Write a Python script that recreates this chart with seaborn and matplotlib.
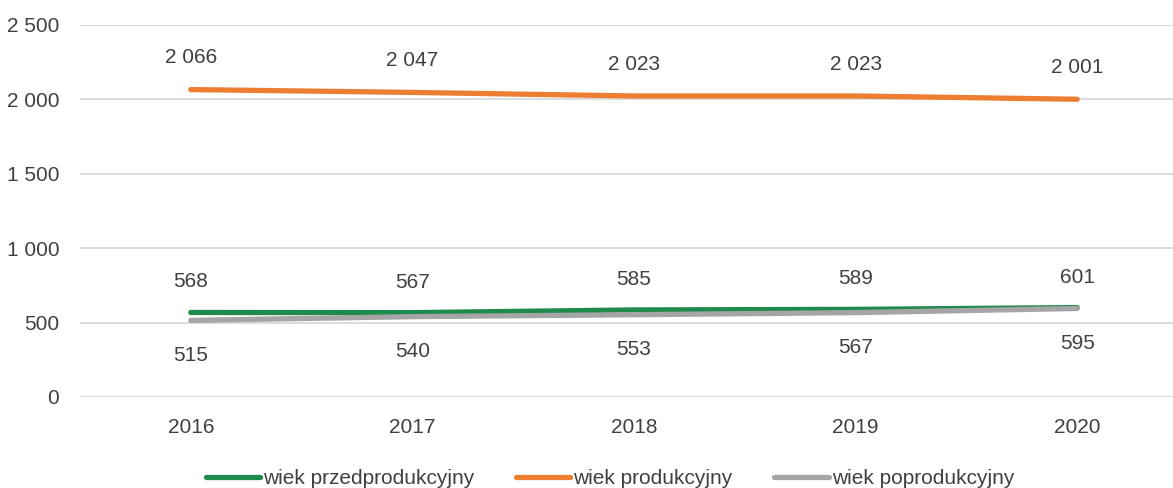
import matplotlib
matplotlib.use("Agg")
import matplotlib.pyplot as plt
import seaborn as sns
import pandas as pd
from matplotlib.lines import Line2D

years = ["2016", "2017", "2018", "2019", "2020"]
przed = [568, 567, 585, 589, 601]
prod = [2066, 2047, 2023, 2023, 2001]
poprod = [515, 540, 553, 567, 595]
series_names = ["wiek przedprodukcyjny", "wiek produkcyjny", "wiek poprodukcyjny"]
colors = ["#1E8A4C", "#ED7D31", "#A5A5A5"]
yticks = [0, 500, 1000, 1500, 2000, 2500]

sns.set_theme(style="white")
plt.rcParams["font.family"] = ["Liberation Sans", "DejaVu Sans"]

df = pd.DataFrame({
    "rok": years * 3,
    "wartosc": przed + prod + poprod,
    "seria": [series_names[0]] * 5 + [series_names[1]] * 5 + [series_names[2]] * 5,
})

fig = plt.figure(figsize=(11.73, 4.88), dpi=100)
ax = fig.add_axes([80 / 1173, 1 - 397 / 488, (1188 - 80) / 1173, (397 - 25) / 488])

sns.lineplot(data=df, x="rok", y="wartosc", hue="seria", palette=colors,
             hue_order=series_names, linewidth=3.8, ax=ax, legend=False,
             sort=False)
for l in ax.lines:
    l.set_solid_capstyle("round")

FS = 15
tc = "#404040"
ax.set_xlim(-0.5, 4.5)
ax.set_ylim(0, 2500)
ax.set_yticks(yticks)
ax.set_yticklabels([f"{v:,}".replace(",", " ") for v in yticks])
ax.set_xlabel("")
ax.set_ylabel("")
ax.grid(axis="y", color="#D9D9D9", linewidth=1.3)
ax.grid(axis="x", visible=False)
for s in ax.spines.values():
    s.set_visible(False)
ax.tick_params(axis="both", length=0, labelsize=FS, colors=tc)
ax.tick_params(axis="y", pad=15)
ax.tick_params(axis="x", pad=15)

fmt = lambda v: f"{v:,}".replace(",", " ")
for i in range(len(years)):
    ax.annotate(fmt(prod[i]), (i, prod[i]), xytext=(0, 23), textcoords="offset points",
                ha="center", va="center", fontsize=FS, color=tc)
    ax.annotate(fmt(przed[i]), (i, przed[i]), xytext=(0, 22), textcoords="offset points",
                ha="center", va="center", fontsize=FS, color=tc)
    ax.annotate(fmt(poprod[i]), (i, poprod[i]), xytext=(0, -25), textcoords="offset points",
                ha="center", va="center", fontsize=FS, color=tc)

handles = [Line2D([0], [0], color=c, lw=3.8, solid_capstyle="round") for c in colors]
fig.legend(handles, series_names, loc="center", bbox_to_anchor=(0.52, 9 / 488),
           ncol=3, frameon=False, fontsize=FS, handlelength=2.6, handletextpad=0.15,
           columnspacing=2.0, labelcolor=tc)

fig.savefig("out.png", dpi=100)
